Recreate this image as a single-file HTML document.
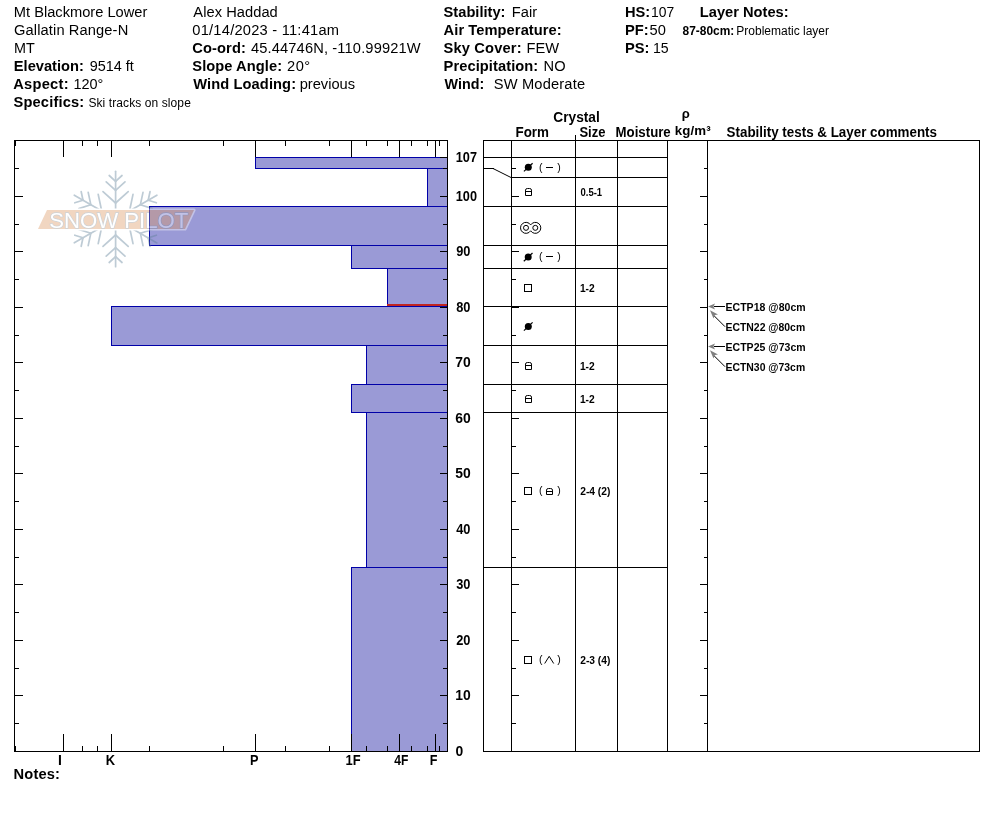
<!DOCTYPE html>
<html><head><meta charset="utf-8"><title>Snow Profile</title>
<style>html,body{margin:0;padding:0;background:#fff;}svg{display:block;will-change:transform;}text{white-space:pre;}</style>
</head><body>
<svg width="994" height="840" viewBox="0 0 994 840" font-family="'Liberation Sans', Arial, sans-serif" fill="#000">
<rect x="255" y="157" width="192" height="11" fill="#9a9ad6"/>
<rect x="427" y="168" width="20" height="38" fill="#9a9ad6"/>
<rect x="149" y="206" width="298" height="39" fill="#9a9ad6"/>
<rect x="351" y="245" width="96" height="23" fill="#9a9ad6"/>
<rect x="387" y="268" width="60" height="38" fill="#9a9ad6"/>
<rect x="111" y="306" width="336" height="39" fill="#9a9ad6"/>
<rect x="366" y="345" width="81" height="39" fill="#9a9ad6"/>
<rect x="351" y="384" width="96" height="28" fill="#9a9ad6"/>
<rect x="366" y="412" width="81" height="155" fill="#9a9ad6"/>
<rect x="351" y="567" width="96" height="184" fill="#9a9ad6"/>
<rect x="255" y="157" width="192" height="1" fill="#0000a8"/>
<rect x="255" y="168" width="192" height="1" fill="#0000a8"/>
<rect x="255" y="157" width="1" height="12" fill="#0000a8"/>
<rect x="427" y="168" width="20" height="1" fill="#0000a8"/>
<rect x="427" y="206" width="20" height="1" fill="#0000a8"/>
<rect x="427" y="168" width="1" height="39" fill="#0000a8"/>
<rect x="149" y="206" width="298" height="1" fill="#0000a8"/>
<rect x="149" y="245" width="298" height="1" fill="#0000a8"/>
<rect x="149" y="206" width="1" height="40" fill="#0000a8"/>
<rect x="351" y="245" width="96" height="1" fill="#0000a8"/>
<rect x="351" y="268" width="96" height="1" fill="#0000a8"/>
<rect x="351" y="245" width="1" height="24" fill="#0000a8"/>
<rect x="387" y="268" width="60" height="1" fill="#0000a8"/>
<rect x="387" y="306" width="60" height="1" fill="#0000a8"/>
<rect x="387" y="268" width="1" height="39" fill="#0000a8"/>
<rect x="111" y="306" width="336" height="1" fill="#0000a8"/>
<rect x="111" y="345" width="336" height="1" fill="#0000a8"/>
<rect x="111" y="306" width="1" height="40" fill="#0000a8"/>
<rect x="366" y="345" width="81" height="1" fill="#0000a8"/>
<rect x="366" y="384" width="81" height="1" fill="#0000a8"/>
<rect x="366" y="345" width="1" height="40" fill="#0000a8"/>
<rect x="351" y="384" width="96" height="1" fill="#0000a8"/>
<rect x="351" y="412" width="96" height="1" fill="#0000a8"/>
<rect x="351" y="384" width="1" height="29" fill="#0000a8"/>
<rect x="366" y="412" width="81" height="1" fill="#0000a8"/>
<rect x="366" y="567" width="81" height="1" fill="#0000a8"/>
<rect x="366" y="412" width="1" height="156" fill="#0000a8"/>
<rect x="351" y="567" width="96" height="1" fill="#0000a8"/>
<rect x="351" y="751" width="96" height="1" fill="#0000a8"/>
<rect x="351" y="567" width="1" height="185" fill="#0000a8"/>
<rect x="387" y="304" width="60" height="2" fill="#c02420"/>

<g opacity="0.4">
 <g stroke="#5c7e96" stroke-width="1.7" fill="none" stroke-linecap="round">
 <line x1="115.6" y1="211.0" x2="115.6" y2="171.3"/>
<line x1="115.6" y1="181.3" x2="122.0" y2="175.5"/>
<line x1="115.6" y1="181.3" x2="109.2" y2="175.5"/>
<line x1="115.6" y1="190.4" x2="125.0" y2="181.9"/>
<line x1="115.6" y1="190.4" x2="106.2" y2="181.9"/>
<line x1="115.6" y1="203.0" x2="128.2" y2="191.6"/>
<line x1="115.6" y1="203.0" x2="103.0" y2="191.6"/>
<line x1="108.7" y1="215.0" x2="74.3" y2="195.2"/>
<line x1="83.0" y1="200.2" x2="81.2" y2="191.7"/>
<line x1="83.0" y1="200.2" x2="74.8" y2="202.8"/>
<line x1="90.8" y1="204.7" x2="88.2" y2="192.3"/>
<line x1="90.8" y1="204.7" x2="78.8" y2="208.6"/>
<line x1="101.7" y1="211.0" x2="98.2" y2="194.4"/>
<line x1="101.7" y1="211.0" x2="85.6" y2="216.3"/>
<line x1="108.7" y1="223.0" x2="74.3" y2="242.8"/>
<line x1="83.0" y1="237.8" x2="74.8" y2="235.2"/>
<line x1="83.0" y1="237.8" x2="81.2" y2="246.3"/>
<line x1="90.8" y1="233.3" x2="78.8" y2="229.4"/>
<line x1="90.8" y1="233.3" x2="88.2" y2="245.7"/>
<line x1="101.7" y1="227.0" x2="85.6" y2="221.7"/>
<line x1="101.7" y1="227.0" x2="98.2" y2="243.6"/>
<line x1="115.6" y1="227.0" x2="115.6" y2="266.7"/>
<line x1="115.6" y1="256.7" x2="109.2" y2="262.5"/>
<line x1="115.6" y1="256.7" x2="122.0" y2="262.5"/>
<line x1="115.6" y1="247.6" x2="106.2" y2="256.1"/>
<line x1="115.6" y1="247.6" x2="125.0" y2="256.1"/>
<line x1="115.6" y1="235.0" x2="103.0" y2="246.4"/>
<line x1="115.6" y1="235.0" x2="128.2" y2="246.4"/>
<line x1="122.5" y1="223.0" x2="156.9" y2="242.9"/>
<line x1="148.2" y1="237.9" x2="150.0" y2="246.3"/>
<line x1="148.2" y1="237.9" x2="156.4" y2="235.2"/>
<line x1="140.4" y1="233.3" x2="143.0" y2="245.7"/>
<line x1="140.4" y1="233.3" x2="152.4" y2="229.4"/>
<line x1="129.5" y1="227.0" x2="133.0" y2="243.6"/>
<line x1="129.5" y1="227.0" x2="145.6" y2="221.7"/>
<line x1="122.5" y1="215.0" x2="156.9" y2="195.2"/>
<line x1="148.2" y1="200.2" x2="156.4" y2="202.8"/>
<line x1="148.2" y1="200.2" x2="150.0" y2="191.7"/>
<line x1="140.4" y1="204.7" x2="152.4" y2="208.6"/>
<line x1="140.4" y1="204.7" x2="143.0" y2="192.3"/>
<line x1="129.5" y1="211.0" x2="145.6" y2="216.3"/>
<line x1="129.5" y1="211.0" x2="133.0" y2="194.4"/>
 </g>
 <polygon points="47,210 194,210 185,229 38,229" fill="#fff" stroke="#fff" stroke-width="3.2" stroke-linejoin="round"/>
 <polygon points="47,210 194,210 185,229 38,229" fill="#db9865"/>
 <text x="49.3" y="227.6" font-family="'Liberation Sans', sans-serif" font-size="22.5px" textLength="139" lengthAdjust="spacingAndGlyphs" fill="#fff" stroke="#7e909f" stroke-width="1.3" paint-order="stroke">SNOW PILOT</text>
</g>
<rect x="14" y="140" width="434" height="1" fill="#000"/>
<rect x="14" y="751" width="434" height="1" fill="#000"/>
<rect x="14" y="140" width="1" height="612" fill="#000"/>
<rect x="447" y="140" width="1" height="612" fill="#000"/>
<rect x="63" y="140" width="1" height="17" fill="#000"/>
<rect x="63" y="734" width="1" height="18" fill="#000"/>
<rect x="111" y="140" width="1" height="17" fill="#000"/>
<rect x="111" y="734" width="1" height="18" fill="#000"/>
<rect x="255" y="140" width="1" height="17" fill="#000"/>
<rect x="255" y="734" width="1" height="18" fill="#000"/>
<rect x="351" y="140" width="1" height="17" fill="#000"/>
<rect x="351" y="734" width="1" height="18" fill="#000"/>
<rect x="399" y="140" width="1" height="17" fill="#000"/>
<rect x="399" y="734" width="1" height="18" fill="#000"/>
<rect x="435" y="140" width="1" height="17" fill="#000"/>
<rect x="435" y="734" width="1" height="18" fill="#000"/>
<rect x="15" y="140" width="1" height="6" fill="#000"/>
<rect x="15" y="746" width="1" height="6" fill="#000"/>
<rect x="82" y="140" width="1" height="6" fill="#000"/>
<rect x="82" y="746" width="1" height="6" fill="#000"/>
<rect x="97" y="140" width="1" height="6" fill="#000"/>
<rect x="97" y="746" width="1" height="6" fill="#000"/>
<rect x="149" y="140" width="1" height="6" fill="#000"/>
<rect x="149" y="746" width="1" height="6" fill="#000"/>
<rect x="223" y="140" width="1" height="6" fill="#000"/>
<rect x="223" y="746" width="1" height="6" fill="#000"/>
<rect x="285" y="140" width="1" height="6" fill="#000"/>
<rect x="285" y="746" width="1" height="6" fill="#000"/>
<rect x="329" y="140" width="1" height="6" fill="#000"/>
<rect x="329" y="746" width="1" height="6" fill="#000"/>
<rect x="366" y="140" width="1" height="6" fill="#000"/>
<rect x="366" y="746" width="1" height="6" fill="#000"/>
<rect x="387" y="140" width="1" height="6" fill="#000"/>
<rect x="387" y="746" width="1" height="6" fill="#000"/>
<rect x="411" y="140" width="1" height="6" fill="#000"/>
<rect x="411" y="746" width="1" height="6" fill="#000"/>
<rect x="427" y="140" width="1" height="6" fill="#000"/>
<rect x="427" y="746" width="1" height="6" fill="#000"/>
<rect x="439" y="140" width="1" height="6" fill="#000"/>
<rect x="439" y="746" width="1" height="6" fill="#000"/>
<rect x="15" y="723" width="4" height="1" fill="#000"/>
<rect x="443" y="723" width="4" height="1" fill="#000"/>
<rect x="512" y="723" width="4" height="1" fill="#000"/>
<rect x="704" y="723" width="3" height="1" fill="#000"/>
<rect x="15" y="695" width="8" height="1" fill="#000"/>
<rect x="440" y="695" width="7" height="1" fill="#000"/>
<rect x="512" y="695" width="7" height="1" fill="#000"/>
<rect x="700" y="695" width="7" height="1" fill="#000"/>
<rect x="15" y="668" width="4" height="1" fill="#000"/>
<rect x="443" y="668" width="4" height="1" fill="#000"/>
<rect x="512" y="668" width="4" height="1" fill="#000"/>
<rect x="704" y="668" width="3" height="1" fill="#000"/>
<rect x="15" y="640" width="8" height="1" fill="#000"/>
<rect x="440" y="640" width="7" height="1" fill="#000"/>
<rect x="512" y="640" width="7" height="1" fill="#000"/>
<rect x="700" y="640" width="7" height="1" fill="#000"/>
<rect x="15" y="612" width="4" height="1" fill="#000"/>
<rect x="443" y="612" width="4" height="1" fill="#000"/>
<rect x="512" y="612" width="4" height="1" fill="#000"/>
<rect x="704" y="612" width="3" height="1" fill="#000"/>
<rect x="15" y="584" width="8" height="1" fill="#000"/>
<rect x="440" y="584" width="7" height="1" fill="#000"/>
<rect x="512" y="584" width="7" height="1" fill="#000"/>
<rect x="700" y="584" width="7" height="1" fill="#000"/>
<rect x="15" y="557" width="4" height="1" fill="#000"/>
<rect x="443" y="557" width="4" height="1" fill="#000"/>
<rect x="512" y="557" width="4" height="1" fill="#000"/>
<rect x="704" y="557" width="3" height="1" fill="#000"/>
<rect x="15" y="529" width="8" height="1" fill="#000"/>
<rect x="440" y="529" width="7" height="1" fill="#000"/>
<rect x="512" y="529" width="7" height="1" fill="#000"/>
<rect x="700" y="529" width="7" height="1" fill="#000"/>
<rect x="15" y="501" width="4" height="1" fill="#000"/>
<rect x="443" y="501" width="4" height="1" fill="#000"/>
<rect x="512" y="501" width="4" height="1" fill="#000"/>
<rect x="704" y="501" width="3" height="1" fill="#000"/>
<rect x="15" y="473" width="8" height="1" fill="#000"/>
<rect x="440" y="473" width="7" height="1" fill="#000"/>
<rect x="512" y="473" width="7" height="1" fill="#000"/>
<rect x="700" y="473" width="7" height="1" fill="#000"/>
<rect x="15" y="446" width="4" height="1" fill="#000"/>
<rect x="443" y="446" width="4" height="1" fill="#000"/>
<rect x="512" y="446" width="4" height="1" fill="#000"/>
<rect x="704" y="446" width="3" height="1" fill="#000"/>
<rect x="15" y="418" width="8" height="1" fill="#000"/>
<rect x="440" y="418" width="7" height="1" fill="#000"/>
<rect x="512" y="418" width="7" height="1" fill="#000"/>
<rect x="700" y="418" width="7" height="1" fill="#000"/>
<rect x="15" y="390" width="4" height="1" fill="#000"/>
<rect x="443" y="390" width="4" height="1" fill="#000"/>
<rect x="512" y="390" width="4" height="1" fill="#000"/>
<rect x="704" y="390" width="3" height="1" fill="#000"/>
<rect x="15" y="362" width="8" height="1" fill="#000"/>
<rect x="440" y="362" width="7" height="1" fill="#000"/>
<rect x="512" y="362" width="7" height="1" fill="#000"/>
<rect x="700" y="362" width="7" height="1" fill="#000"/>
<rect x="15" y="335" width="4" height="1" fill="#000"/>
<rect x="443" y="335" width="4" height="1" fill="#000"/>
<rect x="512" y="335" width="4" height="1" fill="#000"/>
<rect x="704" y="335" width="3" height="1" fill="#000"/>
<rect x="15" y="307" width="8" height="1" fill="#000"/>
<rect x="440" y="307" width="7" height="1" fill="#000"/>
<rect x="512" y="307" width="7" height="1" fill="#000"/>
<rect x="700" y="307" width="7" height="1" fill="#000"/>
<rect x="15" y="279" width="4" height="1" fill="#000"/>
<rect x="443" y="279" width="4" height="1" fill="#000"/>
<rect x="512" y="279" width="4" height="1" fill="#000"/>
<rect x="704" y="279" width="3" height="1" fill="#000"/>
<rect x="15" y="251" width="8" height="1" fill="#000"/>
<rect x="440" y="251" width="7" height="1" fill="#000"/>
<rect x="512" y="251" width="7" height="1" fill="#000"/>
<rect x="700" y="251" width="7" height="1" fill="#000"/>
<rect x="15" y="224" width="4" height="1" fill="#000"/>
<rect x="443" y="224" width="4" height="1" fill="#000"/>
<rect x="512" y="224" width="4" height="1" fill="#000"/>
<rect x="704" y="224" width="3" height="1" fill="#000"/>
<rect x="15" y="196" width="8" height="1" fill="#000"/>
<rect x="440" y="196" width="7" height="1" fill="#000"/>
<rect x="512" y="196" width="7" height="1" fill="#000"/>
<rect x="700" y="196" width="7" height="1" fill="#000"/>
<rect x="15" y="168" width="4" height="1" fill="#000"/>
<rect x="443" y="168" width="4" height="1" fill="#000"/>
<rect x="512" y="168" width="4" height="1" fill="#000"/>
<rect x="704" y="168" width="3" height="1" fill="#000"/>
<rect x="440" y="157" width="7" height="1" fill="#000"/>
<rect x="483" y="140" width="497" height="1" fill="#000"/>
<rect x="483" y="751" width="497" height="1" fill="#000"/>
<rect x="483" y="140" width="1" height="612" fill="#000"/>
<rect x="979" y="140" width="1" height="612" fill="#000"/>
<rect x="511" y="140" width="1" height="612" fill="#000"/>
<rect x="575" y="140" width="1" height="612" fill="#000"/>
<rect x="617" y="140" width="1" height="612" fill="#000"/>
<rect x="667" y="140" width="1" height="612" fill="#000"/>
<rect x="707" y="140" width="1" height="612" fill="#000"/>
<rect x="575" y="135" width="1" height="6" fill="#000"/>
<rect x="483" y="157" width="184" height="1" fill="#000"/>
<rect x="483" y="206" width="184" height="1" fill="#000"/>
<rect x="483" y="245" width="184" height="1" fill="#000"/>
<rect x="483" y="268" width="184" height="1" fill="#000"/>
<rect x="483" y="306" width="184" height="1" fill="#000"/>
<rect x="483" y="345" width="184" height="1" fill="#000"/>
<rect x="483" y="384" width="184" height="1" fill="#000"/>
<rect x="483" y="412" width="184" height="1" fill="#000"/>
<rect x="483" y="567" width="184" height="1" fill="#000"/>
<rect x="511" y="177" width="156" height="1" fill="#000"/>
<rect x="483" y="168" width="11" height="1" fill="#000"/>
<line x1="493" y1="168.5" x2="511" y2="177.5" stroke="#000" stroke-width="1"/>
<circle cx="528.3" cy="167.2" r="3.5" fill="#000"/>
<line x1="523.9" y1="171.39999999999998" x2="532.5999999999999" y2="163.2" stroke="#000" stroke-width="1.2"/>
<text x="539" y="170.7" font-size="10.5px">(</text>
<text x="557.2" y="170.7" font-size="10.5px">)</text>
<rect x="546" y="167" width="7" height="1" fill="#000"/>
<path d="M525.5,195.5 V190.1 Q525.5,188.5 527.5,188.5 H529.5 Q531.5,188.5 531.5,190.1 V195.5 Z M525.5,191.5 H531.5" fill="none" stroke="#000" stroke-width="1"/>
<path d="M530.65,224.91 A5.5,5.5 0 1 0 530.65,230.79 A5.5,5.5 0 1 0 530.65,224.91 Z" fill="none" stroke="#000" stroke-width="1"/>
<circle cx="526.0" cy="227.85" r="2.5" fill="none" stroke="#000" stroke-width="1"/>
<circle cx="535.3" cy="227.85" r="2.5" fill="none" stroke="#000" stroke-width="1"/>
<circle cx="528.2" cy="257" r="3.5" fill="#000"/>
<line x1="523.8000000000001" y1="261.2" x2="532.5" y2="253.0" stroke="#000" stroke-width="1.2"/>
<text x="539" y="259.7" font-size="10.5px">(</text>
<text x="557.2" y="259.7" font-size="10.5px">)</text>
<rect x="546" y="256" width="7" height="1" fill="#000"/>
<rect x="524.5" y="284.5" width="7" height="7" fill="none" stroke="#000" stroke-width="1"/>
<circle cx="528.3" cy="326.4" r="3.5" fill="#000"/>
<line x1="523.9" y1="330.59999999999997" x2="532.5999999999999" y2="322.4" stroke="#000" stroke-width="1.2"/>
<path d="M525.5,369.5 V364.1 Q525.5,362.5 527.5,362.5 H529.5 Q531.5,362.5 531.5,364.1 V369.5 Z M525.5,365.5 H531.5" fill="none" stroke="#000" stroke-width="1"/>
<path d="M525.5,402.5 V397.1 Q525.5,395.5 527.5,395.5 H529.5 Q531.5,395.5 531.5,397.1 V402.5 Z M525.5,398.5 H531.5" fill="none" stroke="#000" stroke-width="1"/>
<rect x="524.5" y="487.5" width="7" height="7" fill="none" stroke="#000" stroke-width="1"/>
<text x="539" y="493.7" font-size="10.5px">(</text>
<text x="557.2" y="493.7" font-size="10.5px">)</text>
<path d="M546.5,494.5 V490.1 Q546.5,488.5 548.5,488.5 H550.5 Q552.5,488.5 552.5,490.1 V494.5 Z M546.5,491.5 H552.5" fill="none" stroke="#000" stroke-width="1"/>
<rect x="524.5" y="656.5" width="7" height="7" fill="none" stroke="#000" stroke-width="1"/>
<text x="539" y="662.7" font-size="10.5px">(</text>
<text x="557.2" y="662.7" font-size="10.5px">)</text>
<polyline points="544.7,663.5 549.2,656.3 553.7,663.5" fill="none" stroke="#000" stroke-width="1"/>
<rect x="714" y="306" width="11" height="1" fill="#000"/>
<polygon points="708,306.5 715,303.5 713.5,306.5 715,309.5" fill="#808080"/>
<line x1="725" y1="326.7" x2="714" y2="315.7" stroke="#000" stroke-width="1"/>
<polygon points="710,310.2 718,314.4 715,315.0 713.5,318.5" fill="#808080"/>
<rect x="714" y="346" width="11" height="1" fill="#000"/>
<polygon points="708,346.5 715,343.5 713.5,346.5 715,349.5" fill="#808080"/>
<line x1="725" y1="366.7" x2="714" y2="355.7" stroke="#000" stroke-width="1"/>
<polygon points="710,350.2 718,354.4 715,355.0 713.5,358.5" fill="#808080"/>
<text x="13.8" y="16.7" font-size="14.67px">Mt Blackmore Lower</text>
<text x="14.0" y="34.7" font-size="14.67px" textLength="114.22" lengthAdjust="spacing">Gallatin Range-N</text>
<text x="14.0" y="52.7" font-size="14.67px" textLength="20.77" lengthAdjust="spacingAndGlyphs">MT</text>
<text x="13.8" y="70.7" font-size="14.67px" font-weight="bold">Elevation:</text>
<text x="89.7" y="70.7" font-size="14.67px" textLength="44.13" lengthAdjust="spacingAndGlyphs">9514 ft</text>
<text x="13.2" y="88.7" font-size="14.67px" font-weight="bold" textLength="55.37" lengthAdjust="spacing">Aspect:</text>
<text x="73.4" y="88.7" font-size="14.67px" textLength="29.93" lengthAdjust="spacingAndGlyphs">120°</text>
<text x="13.5" y="106.7" font-size="14.67px" font-weight="bold" textLength="70.65" lengthAdjust="spacing">Specifics:</text>
<text x="88.4" y="106.7" font-size="12px" textLength="102.42" lengthAdjust="spacing">Ski tracks on slope</text>
<text x="193.3" y="16.7" font-size="14.67px" textLength="84.44" lengthAdjust="spacing">Alex Haddad</text>
<text x="192.3" y="34.7" font-size="14.67px" textLength="146.73" lengthAdjust="spacing">01/14/2023 - 11:41am</text>
<text x="192.3" y="52.7" font-size="14.67px" font-weight="bold" textLength="53.52" lengthAdjust="spacing">Co-ord:</text>
<text x="250.9" y="52.7" font-size="14.67px" textLength="169.77" lengthAdjust="spacing">45.44746N, -110.99921W</text>
<text x="192.3" y="70.7" font-size="14.67px" font-weight="bold" textLength="89.73" lengthAdjust="spacing">Slope Angle:</text>
<text x="287.0" y="70.7" font-size="14.67px" textLength="23.17" lengthAdjust="spacing">20°</text>
<text x="193.3" y="88.7" font-size="14.67px" font-weight="bold" textLength="102.72" lengthAdjust="spacing">Wind Loading:</text>
<text x="299.7" y="88.7" font-size="14.67px">previous</text>
<text x="443.6" y="16.7" font-size="14.67px" font-weight="bold">Stability:</text>
<text x="511.8" y="16.7" font-size="14.67px">Fair</text>
<text x="443.6" y="34.7" font-size="14.67px" font-weight="bold" textLength="118.12" lengthAdjust="spacing">Air Temperature:</text>
<text x="443.6" y="52.7" font-size="14.67px" font-weight="bold" textLength="77.98" lengthAdjust="spacing">Sky Cover:</text>
<text x="526.5" y="52.7" font-size="14.67px">FEW</text>
<text x="443.6" y="70.7" font-size="14.67px" font-weight="bold" textLength="94.66" lengthAdjust="spacing">Precipitation:</text>
<text x="543.6" y="70.7" font-size="14.67px">NO</text>
<text x="444.6" y="88.7" font-size="14.67px" font-weight="bold" textLength="39.66" lengthAdjust="spacingAndGlyphs">Wind:</text>
<text x="493.7" y="88.7" font-size="14.67px" textLength="91.41" lengthAdjust="spacing">SW Moderate</text>
<text x="625.0" y="16.7" font-size="14.67px" font-weight="bold">HS:</text>
<text x="651.1" y="16.7" font-size="14.67px" textLength="23.17" lengthAdjust="spacingAndGlyphs">107</text>
<text x="625.0" y="34.7" font-size="14.67px" font-weight="bold">PF:</text>
<text x="649.5" y="34.7" font-size="14.67px">50</text>
<text x="625.0" y="52.7" font-size="14.67px" font-weight="bold">PS:</text>
<text x="652.9" y="52.7" font-size="14.67px" textLength="15.71" lengthAdjust="spacingAndGlyphs">15</text>
<text x="699.8" y="16.7" font-size="14.67px" font-weight="bold">Layer Notes:</text>
<text x="682.6" y="35.2" font-size="12px" font-weight="bold" textLength="51.73" lengthAdjust="spacingAndGlyphs">87-80cm:</text>
<text x="736.3" y="35.2" font-size="12px">Problematic layer</text>
<text x="553.3" y="121.8" font-size="14px" font-weight="bold" textLength="46.47" lengthAdjust="spacingAndGlyphs">Crystal</text>
<text x="515.5" y="136.9" font-size="14px" font-weight="bold" textLength="33.5" lengthAdjust="spacingAndGlyphs">Form</text>
<text x="579.4" y="136.9" font-size="14px" font-weight="bold" textLength="26.02" lengthAdjust="spacingAndGlyphs">Size</text>
<text x="615.6" y="136.9" font-size="14px" font-weight="bold" textLength="55.14" lengthAdjust="spacingAndGlyphs">Moisture</text>
<text x="681.7" y="118.0" font-size="13px" font-weight="bold">ρ</text>
<text x="674.8" y="135.0" font-size="13.3px" font-weight="bold" textLength="35.87" lengthAdjust="spacing">kg/m³</text>
<text x="726.6" y="136.9" font-size="14px" font-weight="bold" textLength="210.39" lengthAdjust="spacingAndGlyphs">Stability tests &amp; Layer comments</text>
<text x="57.9" y="765" font-size="13.9px" font-weight="bold">I</text>
<text x="105.7" y="765" font-size="13.9px" font-weight="bold" textLength="9.35" lengthAdjust="spacingAndGlyphs">K</text>
<text x="249.9" y="765" font-size="13.9px" font-weight="bold" textLength="8.47" lengthAdjust="spacingAndGlyphs">P</text>
<text x="345.6" y="765" font-size="13.9px" font-weight="bold" textLength="15.12" lengthAdjust="spacingAndGlyphs">1F</text>
<text x="394.3" y="765" font-size="13.9px" font-weight="bold" textLength="14.12" lengthAdjust="spacingAndGlyphs">4F</text>
<text x="429.8" y="765" font-size="13.9px" font-weight="bold" textLength="7.7" lengthAdjust="spacingAndGlyphs">F</text>
<text x="13.5" y="778.5" font-size="14.67px" font-weight="bold" textLength="46.51" lengthAdjust="spacing">Notes:</text>
<text x="455.8" y="161.6" font-size="13.9px" font-weight="bold" textLength="21.19" lengthAdjust="spacingAndGlyphs">107</text>
<text x="455.8" y="200.6" font-size="13.9px" font-weight="bold" textLength="21.19" lengthAdjust="spacingAndGlyphs">100</text>
<text x="456.2" y="255.6" font-size="13.9px" font-weight="bold" textLength="14.25" lengthAdjust="spacingAndGlyphs">90</text>
<text x="456.2" y="311.6" font-size="13.9px" font-weight="bold" textLength="14.25" lengthAdjust="spacingAndGlyphs">80</text>
<text x="455.2" y="366.6" font-size="13.9px" font-weight="bold">70</text>
<text x="455.2" y="422.6" font-size="13.9px" font-weight="bold">60</text>
<text x="455.2" y="477.6" font-size="13.9px" font-weight="bold">50</text>
<text x="456.2" y="533.6" font-size="13.9px" font-weight="bold" textLength="14.25" lengthAdjust="spacingAndGlyphs">40</text>
<text x="456.2" y="588.6" font-size="13.9px" font-weight="bold" textLength="14.25" lengthAdjust="spacingAndGlyphs">30</text>
<text x="456.2" y="644.6" font-size="13.9px" font-weight="bold" textLength="14.25" lengthAdjust="spacingAndGlyphs">20</text>
<text x="455.2" y="699.6" font-size="13.9px" font-weight="bold">10</text>
<text x="455.4" y="755.6" font-size="13.9px" font-weight="bold">0</text>
<text x="580.5" y="196" font-size="10.5px" font-weight="bold" textLength="21.64" lengthAdjust="spacingAndGlyphs">0.5-1</text>
<text x="579.9" y="292" font-size="10.5px" font-weight="bold" textLength="14.79" lengthAdjust="spacingAndGlyphs">1-2</text>
<text x="579.9" y="370" font-size="10.5px" font-weight="bold" textLength="14.79" lengthAdjust="spacingAndGlyphs">1-2</text>
<text x="579.9" y="402.5" font-size="10.5px" font-weight="bold" textLength="14.79" lengthAdjust="spacingAndGlyphs">1-2</text>
<text x="580.2" y="495" font-size="10.5px" font-weight="bold" textLength="30.14" lengthAdjust="spacingAndGlyphs">2-4 (2)</text>
<text x="580.2" y="664" font-size="10.5px" font-weight="bold" textLength="30.14" lengthAdjust="spacingAndGlyphs">2-3 (4)</text>
<text x="725.5" y="311" font-size="10.5px" font-weight="bold" textLength="80.1" lengthAdjust="spacing">ECTP18 @80cm</text>
<text x="725.5" y="331.2" font-size="10.5px" font-weight="bold" textLength="79.68" lengthAdjust="spacingAndGlyphs">ECTN22 @80cm</text>
<text x="725.5" y="351" font-size="10.5px" font-weight="bold" textLength="80.1" lengthAdjust="spacing">ECTP25 @73cm</text>
<text x="725.5" y="370.7" font-size="10.5px" font-weight="bold" textLength="79.68" lengthAdjust="spacingAndGlyphs">ECTN30 @73cm</text>
</svg>
</body></html>
